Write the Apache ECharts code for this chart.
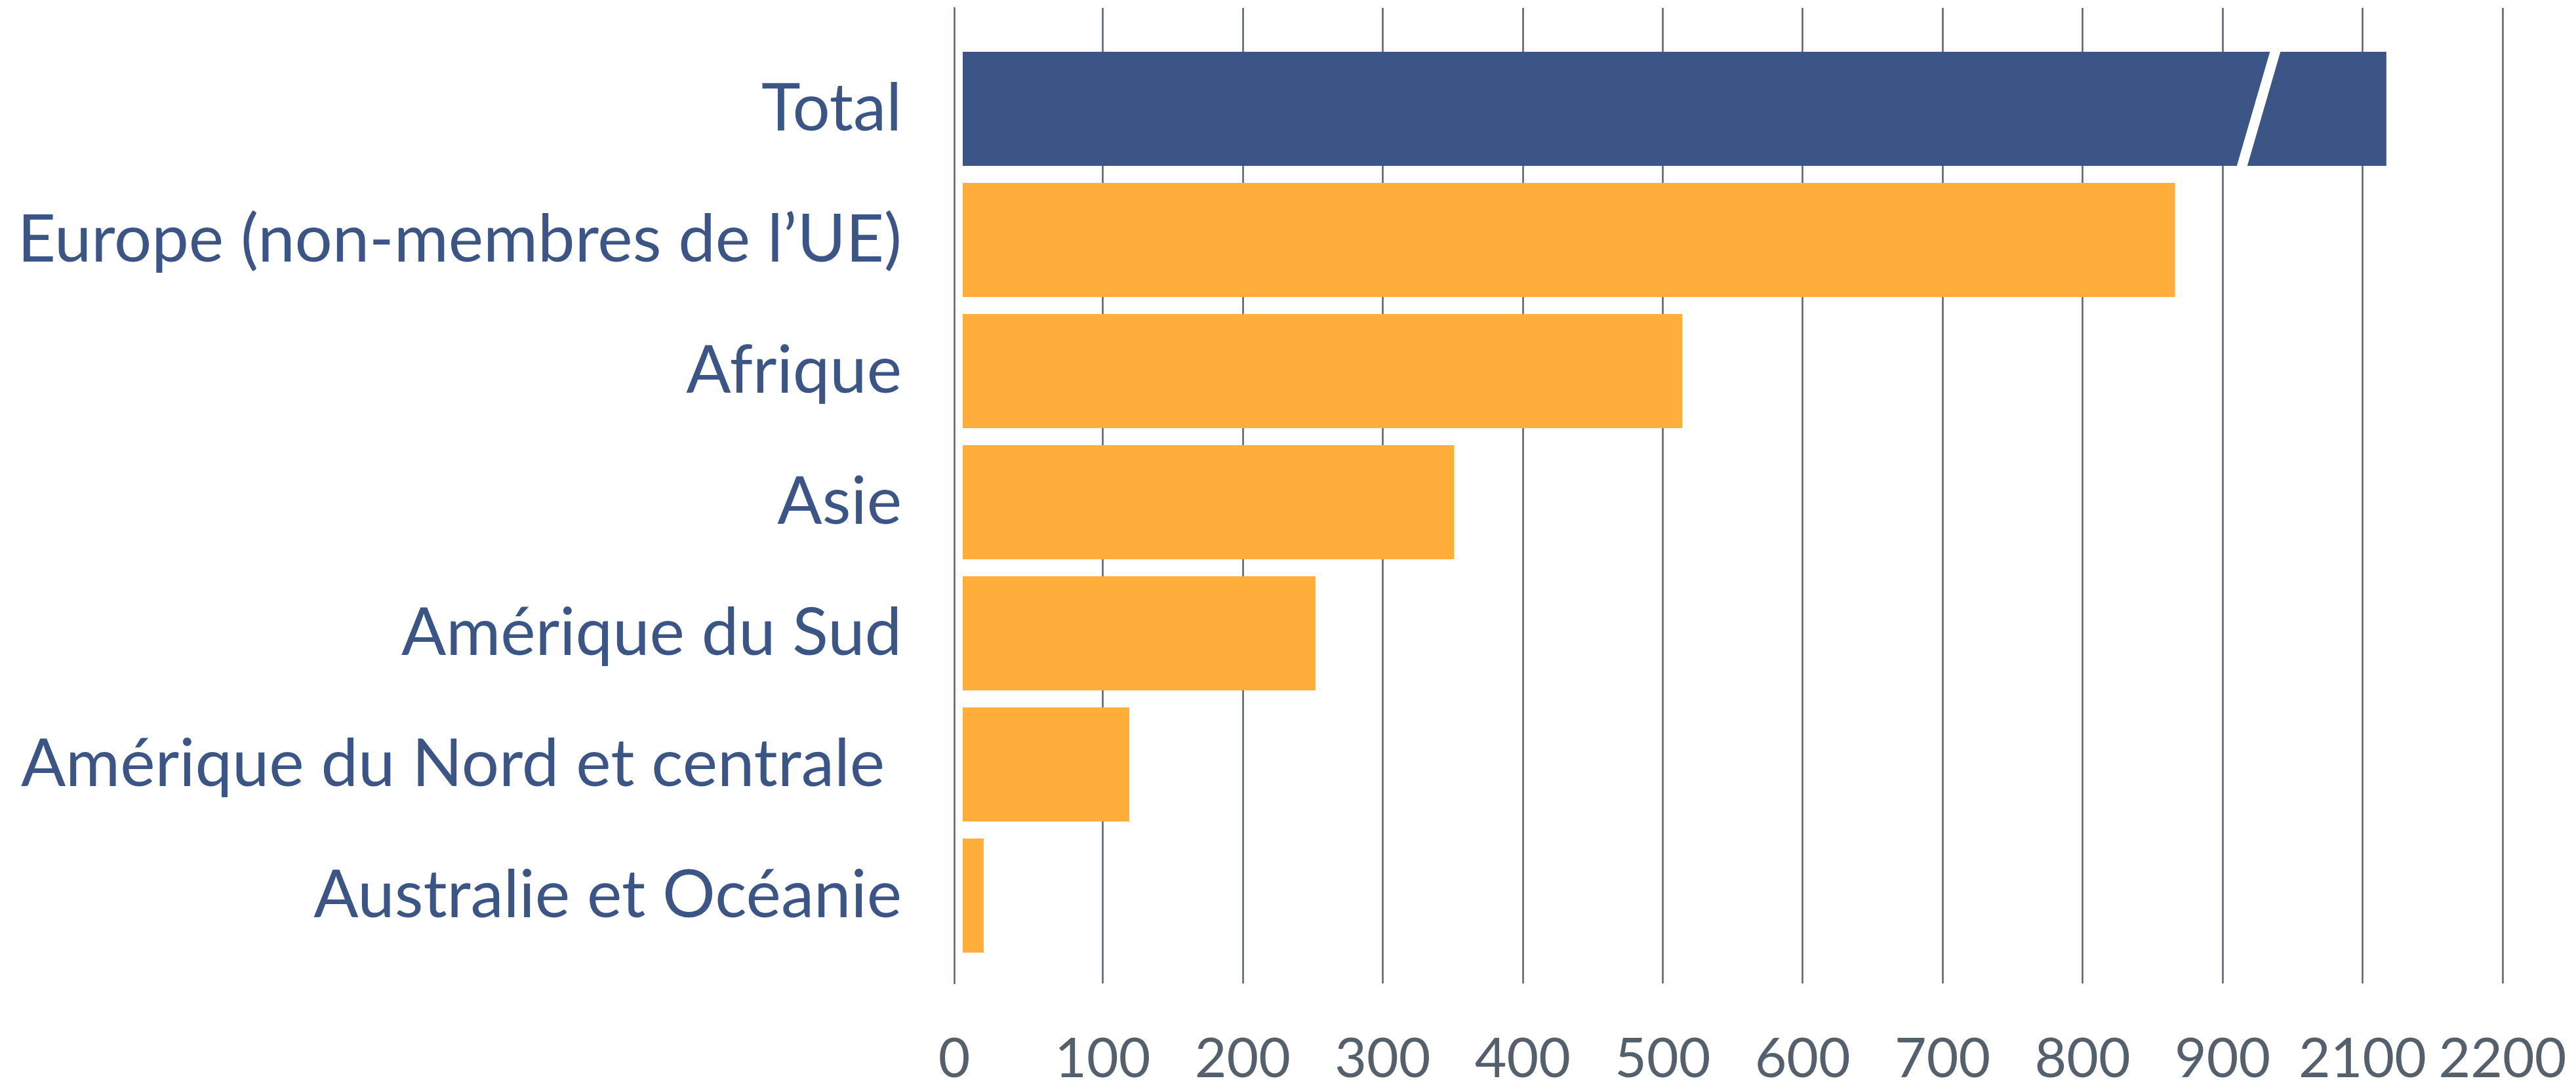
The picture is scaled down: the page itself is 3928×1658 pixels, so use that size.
<!DOCTYPE html>
<html>
<head>
<meta charset="utf-8">
<title>Régions</title>
<script src="https://cdn.jsdelivr.net/npm/echarts@6/dist/echarts.min.js"></script>
<style>
  html, body { margin: 0; padding: 0; background: #ffffff; }
  #chart { width: 3928px; height: 1658px; }
</style>
</head>
<body>
<div id="chart"></div>
<script>
// categories, top to bottom
const categories = [
  'Total',
  'Europe (non-membres de l’UE)',
  'Afrique',
  'Asie',
  'Amérique du Sud',
  'Amérique du Nord et centrale ',
  'Australie et Océanie'
];
const values = [2117, 866, 514, 351, 252, 119, 15];
const tickLabels = ['0', '100', '200', '300', '400', '500', '600', '700', '800', '900', '2100', '2200'];

// the axis skips 1000..2000: everything above it slides down by 1100
const breakFrom = 900;
const breakSkip = 1100;
const breakMarkAt = 922; // where the white slash sits on the total bar (axis units)

function toAxis (v) {
  return v > breakFrom + breakSkip ? v - breakSkip : v;
}

const navy = '#3b5686';
const orange = '#ffae3c';
const gridColor = '#56626f';
const font = 'Lato';

const chart = echarts.init(document.getElementById('chart'));

const option = {
  backgroundColor: '#ffffff',
  animation: false,
  grid: [
    // grid lines + tick labels
    { left: 1468, right: 112, top: 12, bottom: 137 },
    // bars
    { left: 1468, right: 112, top: 66, bottom: 192 }
  ],
  xAxis: [
    {
      gridIndex: 0,
      type: 'value',
      min: 0,
      max: 1100,
      interval: 100,
      axisLine: { show: false },
      axisTick: { show: false },
      splitLine: {
        show: true,
        showMinLine: false,
        lineStyle: { color: gridColor, width: 2.5 }
      },
      axisLabel: {
        fontFamily: font,
        fontSize: 84,
        color: '#55606d',
        margin: 74,
        formatter: (value) => {
          const lbl = tickLabels[Math.round(value / 100)];
          return value === 0 ? '{z|' + lbl + '}' : lbl;
        },
        rich: {
          z: { fontFamily: font, fontSize: 84, color: '#55606d', padding: [0, 26, 0, 0] }
        }
      }
    },
    {
      gridIndex: 1,
      type: 'value',
      min: 0,
      max: 1100,
      interval: 100,
      show: false
    }
  ],
  yAxis: [
    {
      gridIndex: 0,
      type: 'value',
      min: 0,
      max: 1,
      offset: 13,
      axisLine: { show: true, onZero: false, lineStyle: { color: gridColor, width: 2.5 } },
      axisTick: { show: false },
      axisLabel: { show: false },
      splitLine: { show: false }
    },
    {
      gridIndex: 1,
      type: 'category',
      inverse: true,
      data: categories,
      axisLine: { show: false },
      axisTick: { show: false },
      splitLine: { show: false },
      axisLabel: {
        fontFamily: font,
        fontSize: 101,
        color: navy,
        margin: 93,
        padding: [22, 0, 0, 0]
      }
    }
  ],
  series: [
    {
      type: 'bar',
      xAxisIndex: 1,
      yAxisIndex: 1,
      barCategoryGap: '13%',
      data: values.map(toAxis),
      itemStyle: {
        color: (p) => p.dataIndex === 0 ? navy : orange
      }
    },
    {
      // the white slash cut into the total bar
      type: 'custom',
      xAxisIndex: 1,
      yAxisIndex: 1,
      z: 5,
      data: [[breakMarkAt, categories[0]]],
      renderItem (params, api) {
        const c = api.coord([api.value(0), 0]);
        const h = api.size([0, 1])[1] * 0.87 + 2;
        const lean = h * 0.145;
        const w = 16;
        return {
          type: 'polygon',
          shape: {
            points: [
              [c[0] - lean, c[1] + h / 2],
              [c[0] - lean + w, c[1] + h / 2],
              [c[0] + lean + w, c[1] - h / 2],
              [c[0] + lean, c[1] - h / 2]
            ]
          },
          style: { fill: '#ffffff' }
        };
      }
    }
  ]
};

chart.setOption(option);
</script>
</body>
</html>
